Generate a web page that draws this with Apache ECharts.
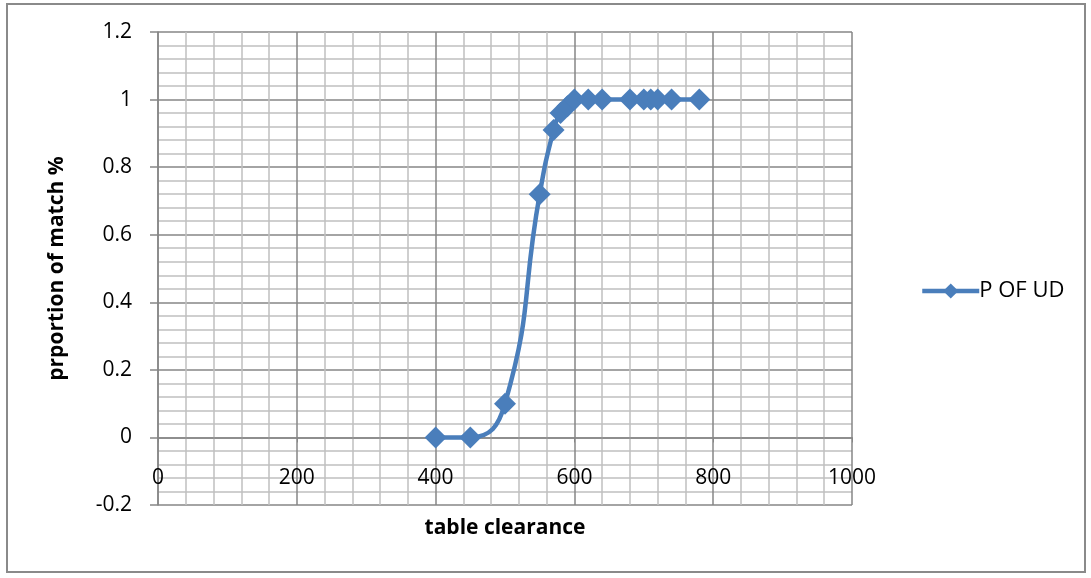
<!DOCTYPE html>
<html>
<head>
<meta charset="utf-8">
<script src="https://cdn.jsdelivr.net/npm/echarts@6/dist/echarts.min.js"></script>
<style>
html,body{margin:0;padding:0;background:#fff;}
#c{width:1091px;height:578px;}
</style>
</head>
<body>
<div id="c"></div>
<script>
const seriesName = 'P OF UD';
const xValues = [400, 450, 500, 550, 570, 580, 590, 600, 620, 640, 680, 700, 710, 720, 740, 780];
const yValues = [0, 0, 0.1, 0.72, 0.91, 0.96, 0.98, 1, 1, 1, 1, 1, 1, 1, 1, 1];
const xTitle = 'table clearance';
const yTitle = 'prportion of match %';

const data = xValues.map((x, i) => [x, yValues[i]]);
const font = '"Open Sans", "Liberation Sans", sans-serif';
const gridTop = 32, gridBottom = 73, H = 578;
const yMin = -0.2, yMax = 1.2;
const plotH = H - gridTop - gridBottom;
// x axis sits on y = 0, as in the original
const xAxisOffset = -plotH * (0 - yMin) / (yMax - yMin);

const chart = echarts.init(document.getElementById('c'));
chart.setOption({
  animation: false,
  backgroundColor: '#fff',
  graphic: [{
    type: 'rect', silent: true, z: -1,
    shape: {x: 7, y: 4, width: 1078, height: 568},
    style: {fill: 'none', stroke: '#8a8a8a', lineWidth: 2}
  }],
  grid: {left: 158, right: 239, top: gridTop, bottom: gridBottom, show: false, outerBoundsMode: 'none', containLabel: false},
  legend: {
    show: true, orient: 'vertical', left: 915, top: 275,
    itemWidth: 57, itemHeight: 19, itemGap: 8,
    lineStyle: {width: 4.5},
    textStyle: {fontFamily: font, fontSize: 22, color: '#000', padding: [0, 0, 0, -5]},
    data: [seriesName]
  },
  xAxis: {
    type: 'value', min: 0, max: 1000, interval: 200,
    position: 'bottom', offset: xAxisOffset,
    name: xTitle, nameLocation: 'middle', nameGap: 80,
    nameTextStyle: {fontFamily: font, fontSize: 21, fontWeight: 'bold', color: '#000'},
    axisLine: {show: true, onZero: false, lineStyle: {color: '#868686', width: 1.5}},
    axisTick: {show: true, length: 5, lineStyle: {color: '#868686'}},
    axisLabel: {fontFamily: font, fontSize: 21, color: '#000', margin: 30,
      formatter: v => String(v)},
    splitLine: {show: true, lineStyle: {color: '#868686', width: 1.5}},
    minorTick: {show: false, splitNumber: 5},
    minorSplitLine: {show: true, lineStyle: {color: '#c0c0c0', width: 1.5}}
  },
  yAxis: {
    type: 'value', min: yMin, max: yMax, interval: 0.2,
    name: yTitle, nameLocation: 'middle', nameGap: 90,
    nameTextStyle: {fontFamily: font, fontSize: 21, fontWeight: 'bold', color: '#000'},
    axisLine: {show: true, onZero: false, lineStyle: {color: '#868686', width: 1.5}},
    axisTick: {show: true, length: 8, lineStyle: {color: '#868686', width: 1.5}},
    axisLabel: {fontFamily: font, fontSize: 21, color: '#000', margin: 26,
      formatter: v => String(Math.round(v * 10) / 10)},
    splitLine: {show: true, lineStyle: {color: '#868686', width: 1.5}},
    minorTick: {show: false, splitNumber: 5},
    minorSplitLine: {show: true, lineStyle: {color: '#c0c0c0', width: 1.5}}
  },
  series: [{
    name: seriesName, type: 'line', data: data, smooth: 0.5,
    symbol: 'diamond', symbolSize: 22,
    lineStyle: {color: '#4a7ebb', width: 4.5},
    itemStyle: {color: '#4a7ebb'}
  }]
});
</script>
</body>
</html>
